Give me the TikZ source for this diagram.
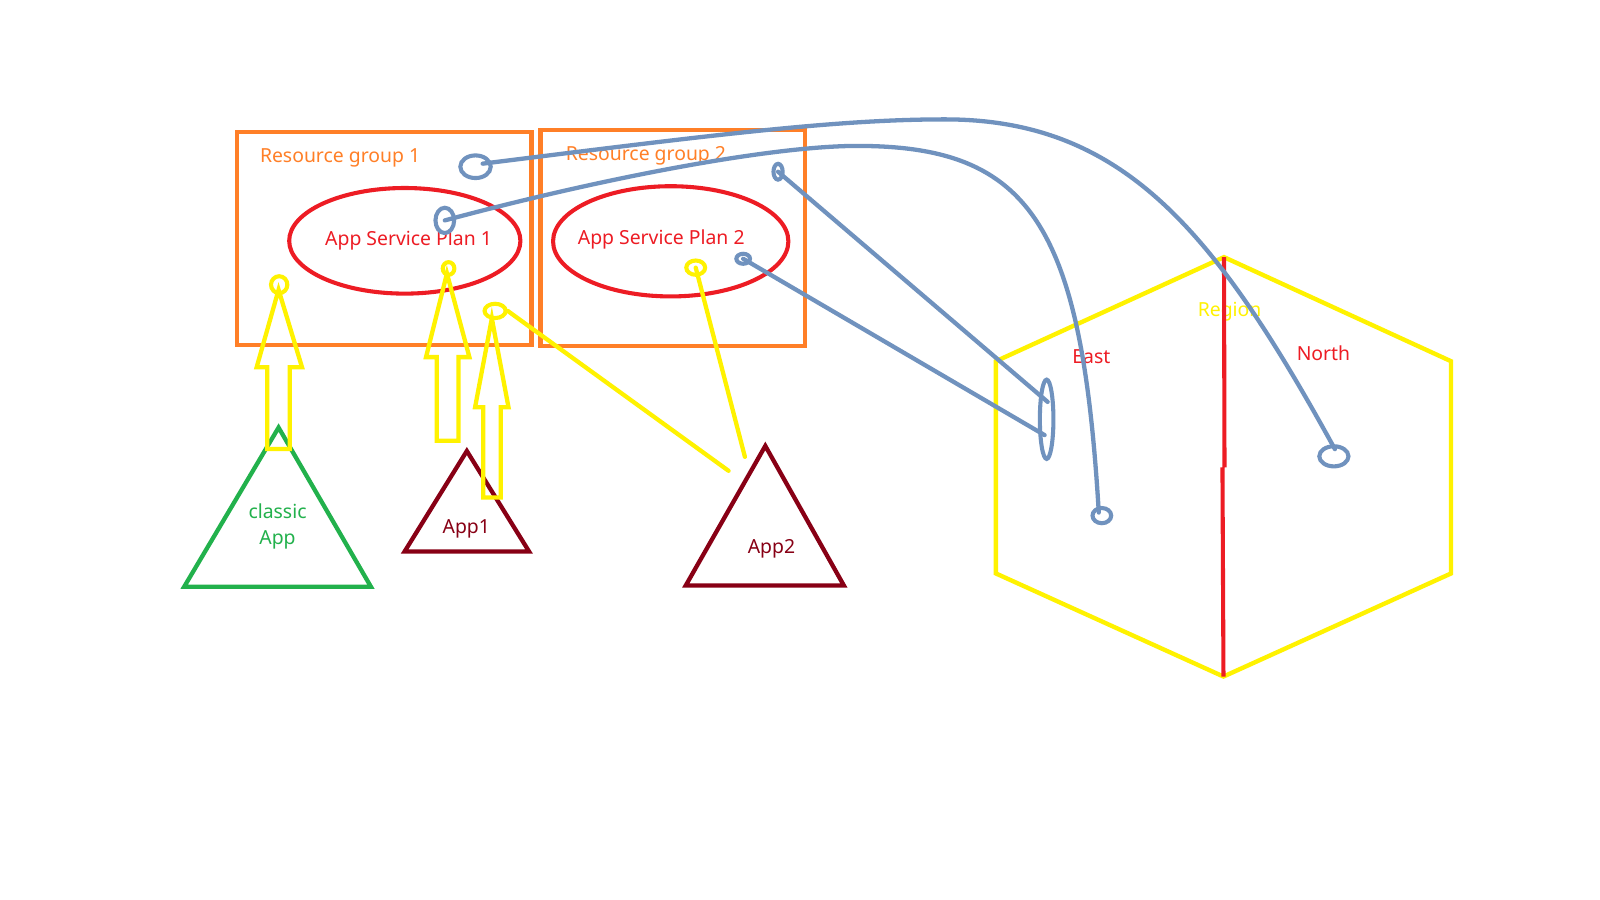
\documentclass[tikz,border=0pt]{standalone}
\usepackage{fontspec}
\setmainfont{Noto Sans}
\usetikzlibrary{shapes.geometric,calc}
\definecolor{cOrange}{HTML}{FF7F27}
\definecolor{cRed}{HTML}{ED1C24}
\definecolor{cYellow}{HTML}{FFF200}
\definecolor{cGreen}{HTML}{22B14C}
\definecolor{cDark}{HTML}{880015}
\definecolor{cBlue}{HTML}{7092BE}
\begin{document}
\begin{tikzpicture}[x=1pt,y=-1pt,
  txt/.style={font=\fontsize{19}{25}\selectfont, inner sep=0pt, anchor=base, align=center},
  rgbox/.style={draw=cOrange, line width=4.5pt, rectangle, inner sep=0pt},
  plan/.style={draw=cRed, line width=4pt, ellipse, inner sep=0pt},
  ring/.style={ellipse, inner sep=0pt, line width=4pt},
  bring/.style={ring, draw=cBlue},
  yring/.style={ring, draw=cYellow},
  bline/.style={draw=cBlue, line width=4.2pt, line cap=round},
  yline/.style={draw=cYellow, line width=4.2pt, line cap=round},
  blockarrow/.style={draw=cYellow, line width=4.2pt, line join=miter},
  tri/.style={line width=4.2pt, line join=miter},
  hexline/.style={draw=cYellow, line width=4.3pt, line join=miter}]
\useasboundingbox[fill=white] (0,0) rectangle (1568,882);

% resource groups
\node[rgbox, minimum width=288.4pt, minimum height=208.7pt] (rg1) at (376.6,233.65) {};
\node[rgbox, minimum width=259.5pt, minimum height=211.7pt] (rg2) at (659.25,233.15) {};
\node[txt, text=cOrange] (rg1t) at (333.3,159) {Resource group 1};
\node[txt, text=cOrange] (rg2t) at (633,157.5) {Resource group 2};

% app service plans
\node[plan, minimum width=226.6pt, minimum height=103.5pt] (asp1) at (396.7,236) {};
\node[plan, minimum width=230.6pt, minimum height=108pt] (asp2) at (657.3,236.5) {};
\node[txt, text=cRed] (asp1t) at (400.4,241) {App Service Plan 1};
\node[txt, text=cRed] (asp2t) at (648,239.2) {App Service Plan 2};

% region hexagon
\coordinate (hexTop) at (1199.5,252);
\coordinate (hexBot) at (1199,663);
\draw[hexline] (hexTop) -- (976,354) -- (976,562) -- (hexBot) -- (1422,562) -- (1422,354) -- cycle;
\node[txt, text=cYellow] (region) at (1205,310.5) {Region};
\node[txt, text=cRed] (east) at (1069.5,356) {East};
\node[txt, text=cRed] (north) at (1297,353) {North};
\draw[cRed, line width=4pt] (hexTop) -- (1200,458) (1198,458) -- (hexBot);

% app triangles
\draw[tri, draw=cGreen] (273,419) -- (180.5,575) -- (363.5,575) -- cycle;
\node[txt, text=cGreen] (classic) at (272,533.3) {classic\\App};
\draw[tri, draw=cDark] (457.5,442) -- (396.5,540.5) -- (518.5,540.5) -- cycle;
\node[txt, text=cDark] (app1) at (457,523) {App1};
\draw[tri, draw=cDark] (750,437) -- (672,573.8) -- (827,573.8) -- cycle;
\node[txt, text=cDark] (app2) at (756,542.5) {App2};

% yellow rings
\node[yring, minimum width=16pt, minimum height=16.6pt] (y1) at (273.6,279) {};
\node[yring, minimum width=11.4pt, minimum height=12.4pt] (y2) at (439.6,263.1) {};
\node[yring, minimum width=20.7pt, minimum height=14pt] (y3) at (485.2,304.7) {};
\node[yring, minimum width=18.5pt, minimum height=14pt] (y4) at (681.8,262.3) {};

% block arrows
\draw[blockarrow] (273,284) -- (296,360) -- (284,360) -- (284,440) -- (262,440) -- (262,360) -- (251.5,360) -- cycle;
\draw[blockarrow] (438,268) -- (460,350) -- (449.4,350) -- (449.4,432) -- (428,432) -- (428,350) -- (417.5,350) -- cycle;
\draw[blockarrow] (482,312) -- (498.3,399) -- (490.7,399) -- (490.7,487.5) -- (473.6,487.5) -- (473.6,399) -- (465.6,399) -- cycle;

% yellow lines
\coordinate (yend3) at (714,461.4);
\coordinate (yend4) at (730,447.7);
\draw[yline] (y3.east) -- (yend3);
\draw[yline] (y4.center) -- (yend4);

% blue rings
\node[bring, minimum width=29.8pt, minimum height=22.2pt] (b1) at (466,163.4) {};
\node[bring, minimum width=18.3pt, minimum height=24.8pt] (b2) at (435.9,216) {};
\node[bring, minimum width=9pt, minimum height=15.5pt] (b3) at (762.5,168.3) {};
\node[bring, minimum width=13.4pt, minimum height=9.8pt] (b4) at (728.3,253.6) {};
\node[bring, minimum width=13.3pt, minimum height=77.7pt] (b5) at (1025.7,410.9) {};
\node[bring, minimum width=18.3pt, minimum height=14.9pt] (b6) at (1079.8,505.3) {};
\node[bring, minimum width=28.6pt, minimum height=19.7pt] (b7) at (1307.2,447.2) {};

% blue connectors
\coordinate (peakA) at (926,117);
\coordinate (peakB) at (840,143);
\draw[bline] ($(b1.center)+(7,-3)$) .. controls (700,132) and (820,117) .. (peakA)
  .. controls (1100,117) and (1190,225) .. ($(b7.center)+(1,-7)$);
\draw[bline] (b2.center) .. controls (600,172) and (760,143) .. (peakB)
  .. controls (1010,143) and (1060,220) .. ($(b6.center)+(-3,-3)$);
\draw[bline] (b3.center) -- ($(b5.center)+(1,-17)$);
\draw[bline] (b4.center) -- ($(b5.center)+(-2,15.5)$);
\end{tikzpicture}
\end{document}
